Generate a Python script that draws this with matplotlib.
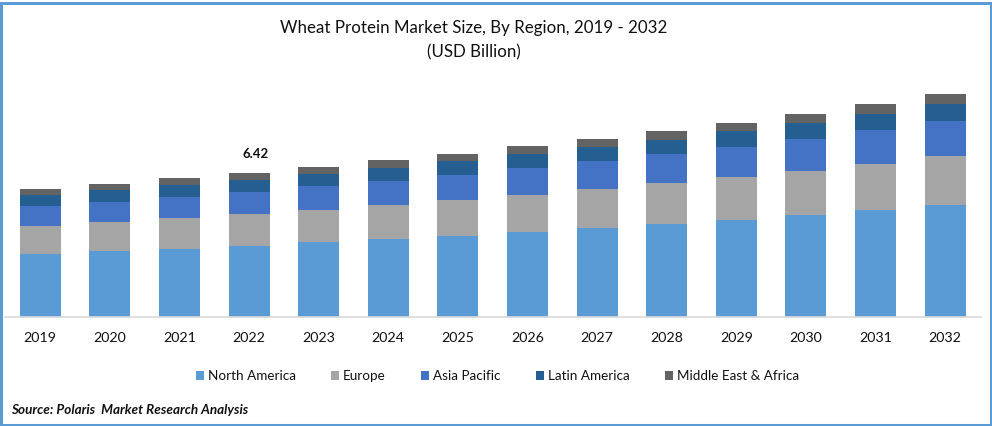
import matplotlib
matplotlib.use("Agg")
import matplotlib.pyplot as plt
from matplotlib.patches import Rectangle
import numpy as np

plt.rcParams['font.family'] = ['Lato', 'DejaVu Sans']

years = [str(y) for y in range(2019, 2033)]
north_america = [2.81, 2.94, 3.03, 3.17, 3.34, 3.48, 3.61, 3.79, 3.97, 4.15, 4.32, 4.55, 4.77, 4.99]
europe = [1.25, 1.29, 1.38, 1.43, 1.43, 1.52, 1.60, 1.65, 1.74, 1.83, 1.92, 1.96, 2.05, 2.18]
asia_pacific = [0.89, 0.89, 0.94, 0.98, 1.07, 1.07, 1.11, 1.20, 1.25, 1.29, 1.34, 1.43, 1.52, 1.56]
latin_america = [0.49, 0.53, 0.53, 0.53, 0.53, 0.58, 0.62, 0.62, 0.62, 0.62, 0.71, 0.71, 0.71, 0.76]
mea = [0.27, 0.27, 0.31, 0.31, 0.31, 0.36, 0.31, 0.36, 0.36, 0.40, 0.36, 0.40, 0.45, 0.45]
series_names = ["North America", "Europe", "Asia Pacific", "Latin America", "Middle East & Africa"]
series_values = [north_america, europe, asia_pacific, latin_america, mea]
colors = ["#5B9BD5", "#A5A5A5", "#4472C4", "#255E91", "#636363"]
annotated_year = "2022"
annotated_text = "6.42"

W, H = 992, 426
fig = plt.figure(figsize=(W / 100, H / 100), dpi=100, facecolor="white")

left_px, right_px, base_px, top_px = 5, 981, 317, 85
ax = fig.add_axes([left_px / W, 1 - base_px / H, (right_px - left_px) / W, (base_px - top_px) / H])

x = np.arange(len(years))
step = 69.6
first = 40.3
ax.set_xlim((left_px - first) / step, (right_px - first) / step)
ax.set_ylim(0, (base_px - top_px) / (144 / 6.42))

bottom = np.zeros(len(years))
for name, vals, c in zip(series_names, series_values, colors):
    ax.bar(x, vals, width=41 / step, bottom=bottom, color=c, label=name, linewidth=0)
    bottom += np.array(vals)

for s in ["top", "left", "right"]:
    ax.spines[s].set_visible(False)
ax.spines["bottom"].set_color("#D9D9D9")
ax.spines["bottom"].set_linewidth(1.2)
ax.set_yticks([])
ax.set_xticks(x)
ax.set_xticklabels(years, fontsize=10.3, color="#111111")
ax.tick_params(axis="x", length=0, pad=11)

i = years.index(annotated_year)
ax.annotate(annotated_text, (x[i], bottom[i]), xytext=(4.3, 9.7), textcoords="offset points",
            ha="center", va="bottom", fontsize=9.5, fontweight="bold", color="#111111")

fig.text(473.5 / W, 1 - 28.5 / H, "Wheat Protein Market Size, By Region, 2019 - 2032",
         ha="center", va="center", fontsize=12.15, color="#111111")
fig.text(473.5 / W, 1 - 52 / H, "(USD Billion)", ha="center", va="center", fontsize=12.15, color="#111111")

leg = fig.legend(loc="center", bbox_to_anchor=(497.5 / W, 1 - 376.5 / H), ncol=5, frameon=False,
                 fontsize=9.75, handlelength=0.6, handleheight=0.6, handletextpad=0.3,
                 columnspacing=2.6, labelcolor="#111111")

fig.text(11 / W, 1 - 410 / H, "Source: Polaris  Market Research Analysis", ha="left", va="center",
         fontsize=9.75, fontweight="bold", fontstyle="italic", color="#111111")

fig.add_artist(Rectangle((1 / W, 1.5 / H), 989.5 / W, 421.5 / H, transform=fig.transFigure,
                         fill=False, edgecolor="#5B9BD5", linewidth=2.2))

fig.savefig("out.png", dpi=100, facecolor="white")
